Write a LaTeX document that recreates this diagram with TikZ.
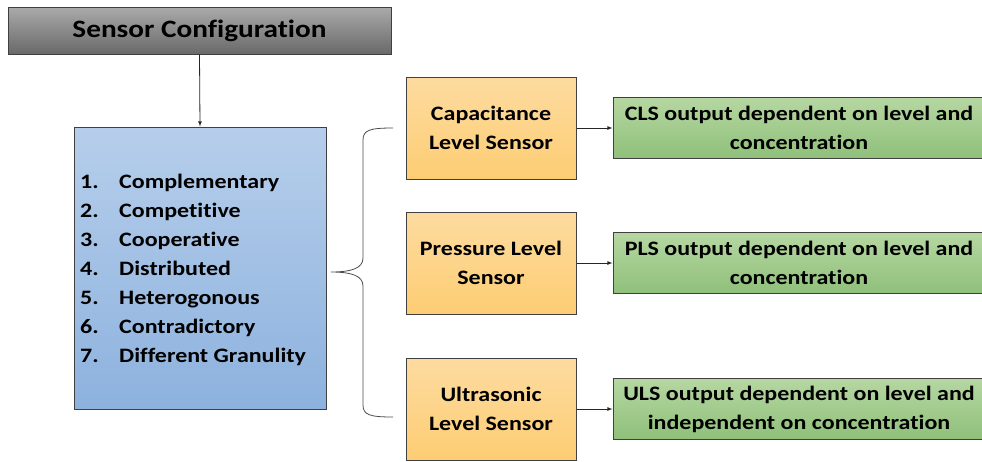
\documentclass[tikz,border=0pt]{standalone}
\usepackage{fontspec}
\setmainfont{Carlito}[FakeStretch=1.17,Ligatures=NoCommon]
\usetikzlibrary{positioning,arrows}

\definecolor{titletop}{RGB}{170,170,170}
\definecolor{titlebot}{RGB}{105,105,105}
\definecolor{listtop}{RGB}{182,206,235}
\definecolor{listbot}{RGB}{141,178,222}
\definecolor{sensortop}{RGB}{253,219,160}
\definecolor{sensorbot}{RGB}{253,205,115}
\definecolor{outtop}{RGB}{182,215,162}
\definecolor{outbot}{RGB}{143,192,122}
\definecolor{edge}{RGB}{64,64,64}

\tikzset{
  box/.style={draw=edge, line width=1pt, rectangle, align=center, inner sep=0pt,
    font=\fontsize{20.5}{29}\selectfont\bfseries},
  titlebox/.style={box, top color=titletop, bottom color=titlebot,
    minimum width=383pt, minimum height=47pt, font=\fontsize{25}{30}\selectfont\bfseries},
  listbox/.style={box, top color=listtop, bottom color=listbot,
    minimum width=252pt, minimum height=282pt},
  sensorbox/.style={box, top color=sensortop, bottom color=sensorbot,
    minimum width=170pt, minimum height=102pt},
  outbox/.style={box, top color=outtop, bottom color=outbot,
    minimum width=372pt, minimum height=61pt},
  item/.style={inner sep=0pt, anchor=base west, font=\fontsize{20.5}{24}\selectfont\bfseries},
  link/.style={-latex, line width=0.8pt, black!85}
}

\begin{document}
\begin{tikzpicture}[x=1pt,y=-1pt]
  \useasboundingbox (0,0) rectangle (982,461);

  \node[titlebox] (title) at (199.5,30.5) {Sensor Configuration};
  \node[listbox] (types) at (200,268) {};

  \foreach \i/\name in {1/Complementary,2/Competitive,3/Cooperative,4/Distributed,
      5/Heterogonous,6/Contradictory,7/Different Granulity}{
    \node[item] (num\i) at (80,{188+29*(\i-1)}) {\i.};
    \node[item] (typ\i) at (119,{188+29*(\i-1)}) {\name};
  }

  \node[sensorbox] (cls) at (491,128) {Capacitance\\Level Sensor};
  \node[sensorbox] (pls) at (491,263) {Pressure Level\\Sensor};
  \node[sensorbox] (uls) at (491,409) {Ultrasonic\\Level Sensor};

  \node[outbox, right=36pt of cls] (clsout) {CLS output dependent on level and\\concentration};
  \node[outbox, right=36pt of pls] (plsout) {PLS output dependent on level and\\concentration};
  \node[outbox, right=36pt of uls] (ulsout) {ULS output dependent on level and\\independent on concentration};

  \draw[link] (title.south) -- (types.north);
  \draw[link] (cls) -- (clsout);
  \draw[link] (pls) -- (plsout);
  \draw[link] (uls) -- (ulsout);

  % brace
  \coordinate (bracetop) at (393,128);
  \coordinate (bracetip) at (331,272);
  \coordinate (bracebot) at (393,417);
  \draw[line width=0.8pt, black!70]
    (bracetop) .. controls (370,128) and (363,130) .. (363,140)
    -- (363,258) .. controls (363,268) and (352,272) .. (bracetip)
    .. controls (352,272) and (363,276) .. (363,286)
    -- (363,405) .. controls (363,415) and (370,417) .. (bracebot);
\end{tikzpicture}
\end{document}
